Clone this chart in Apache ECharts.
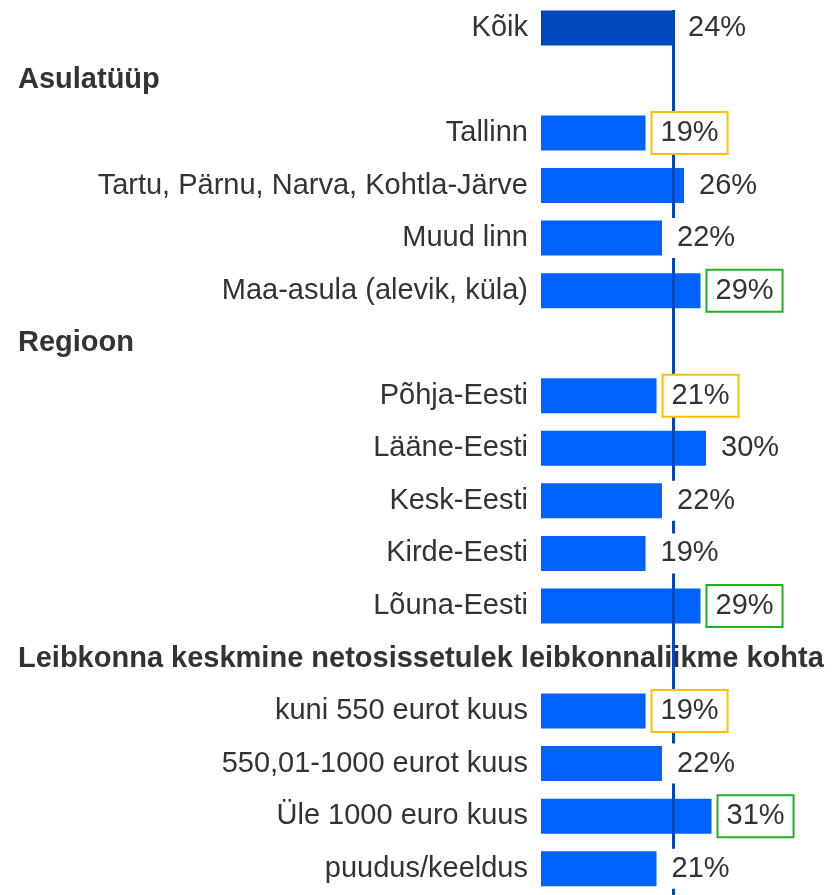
<!DOCTYPE html>
<html>
<head>
<meta charset="utf-8">
<script src="https://cdn.jsdelivr.net/npm/echarts@6/dist/echarts.min.js"></script>
<style>
  html, body { margin: 0; padding: 0; background: #fff; }
  #chart { width: 835px; height: 895px; }
</style>
</head>
<body>
<div id="chart"></div>
<script>
'use strict';
var categories = ['Kõik', 'Asulatüüp', 'Tallinn', 'Tartu, Pärnu, Narva, Kohtla-Järve', 'Muud linn',
    'Maa-asula (alevik, küla)', 'Regioon', 'Põhja-Eesti', 'Lääne-Eesti', 'Kesk-Eesti', 'Kirde-Eesti',
    'Lõuna-Eesti', 'Leibkonna keskmine netosissetulek leibkonnaliikme kohta', 'kuni 550 eurot kuus',
    '550,01-1000 eurot kuus', 'Üle 1000 euro kuus', 'puudus/keeldus'];
var headers = ['Asulatüüp', 'Regioon', 'Leibkonna keskmine netosissetulek leibkonnaliikme kohta'];
var values = [24, null, 19, 26, 22, 29, null, 21, 30, 22, 19, 29, null, 19, 22, 31, 21];
var marks = ['', '', 'low', '', '', 'high', '', 'low', '', '', '', 'high', '', 'low', '', 'high', ''];
var average = 24;

var chart = echarts.init(document.getElementById('chart'));
var font = 'Liberation Sans, Arial, sans-serif';
var textColor = '#333333';

var barData = values.map(function (v, i) {
    return {
        value: v,
        itemStyle: { color: i === 0 ? '#0046BE' : '#0062FF' }
    };
});

var labelData = values.map(function (v, i) {
    var border = marks[i] === 'low' ? '#FFC000' : (marks[i] === 'high' ? '#22B022' : 'transparent');
    return {
        value: v,
        label: { borderColor: border }
    };
});

// average line runs from the top edge of the first bar to the bottom of the plot
var rowCount = categories.length;

chart.setOption({
    animation: false,
    grid: { left: 541, top: 1.6, height: 896.8, right: 19 },
    xAxis: { type: 'value', min: 0, max: 50, show: false },
    yAxis: [
        {
            type: 'category',
            data: categories,
            inverse: true,
            axisLine: { show: false },
            axisTick: { show: false },
            axisLabel: {
                margin: 13,
                fontFamily: font,
                fontSize: 29,
                color: textColor,
                formatter: function (v) { return headers.indexOf(v) >= 0 ? '' : v; }
            }
        },
        {
            type: 'category',
            data: categories,
            inverse: true,
            position: 'left',
            axisLine: { show: false },
            axisTick: { show: false },
            axisLabel: {
                margin: 523,
                align: 'left',
                fontFamily: font,
                fontSize: 29,
                fontWeight: 'bold',
                color: textColor,
                formatter: function (v) { return headers.indexOf(v) >= 0 ? v : ''; }
            }
        },
        {
            type: 'value',
            min: -0.5,
            max: rowCount - 0.5,
            inverse: true,
            show: false
        }
    ],
    series: [
        {
            type: 'bar',
            data: barData,
            barWidth: 35,
            z: 2
        },
        {
            type: 'line',
            yAxisIndex: 2,
            data: [],
            z: 3,
            markLine: {
                z: 3,
                symbol: 'none',
                silent: true,
                label: { show: false },
                lineStyle: { color: '#0046BE', width: 3, type: 'solid' },
                data: [[{ coord: [average, -0.34] }, { coord: [average, rowCount - 0.5] }]]
            }
        },
        {
            type: 'bar',
            data: labelData,
            barWidth: 35,
            barGap: '-100%',
            z: 6,
            itemStyle: { color: 'transparent' },
            label: {
                show: true,
                position: 'right',
                distance: 7,
                padding: [5, 8, 5, 8],
                lineHeight: 30,
                backgroundColor: '#ffffff',
                borderWidth: 2,
                fontFamily: font,
                fontSize: 29,
                color: textColor,
                formatter: '{c}%'
            }
        }
    ]
});
</script>
</body>
</html>
